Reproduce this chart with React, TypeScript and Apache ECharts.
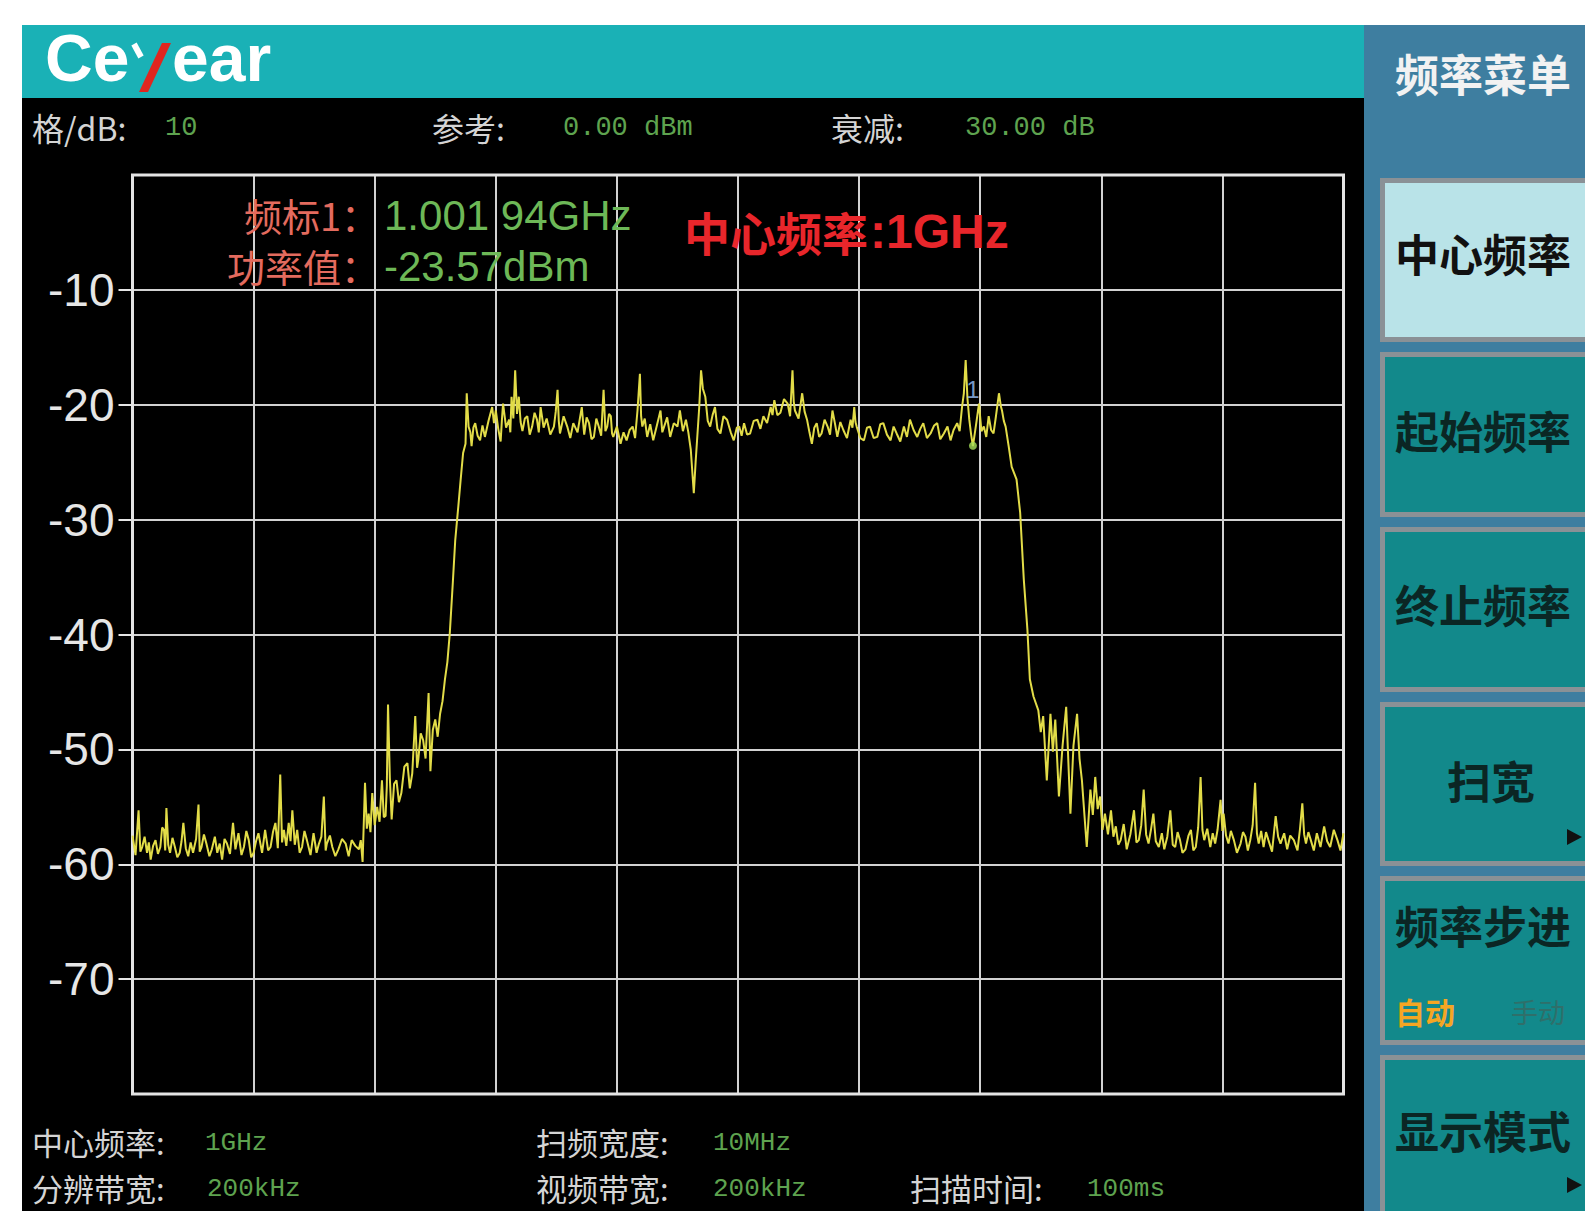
import React, { useEffect, useRef } from "react";
import * as echarts from "echarts";

// Trace: [frequency MHz, level dBm]
const noiseLeft = [
  [995.0, -57.5], [995.025, -59.2], [995.05, -55.3], [995.065, -58.9], [995.08, -58.5], [995.1, -57.6],
  [995.12, -59.0], [995.135, -58.1], [995.15, -59.6], [995.17, -58.4], [995.19, -57.9], [995.21, -59.1],
  [995.23, -58.5], [995.245, -56.8], [995.26, -57.0], [995.27, -58.8], [995.28, -55.1], [995.295, -58.3],
  [995.31, -59.0], [995.33, -57.7], [995.35, -58.5], [995.37, -59.4], [995.39, -59.0], [995.405, -58.0],
  [995.42, -56.4], [995.44, -58.6], [995.46, -59.3], [995.48, -58.1], [995.5, -59.0], [995.525, -57.8],
  [995.545, -54.8], [995.555, -58.9], [995.57, -58.5], [995.59, -57.4], [995.61, -58.2], [995.635, -59.3],
  [995.655, -58.7], [995.68, -57.6], [995.7, -59.0], [995.72, -58.2], [995.74, -59.6], [995.76, -57.8],
  [995.78, -58.2], [995.805, -59.1], [995.83, -56.4], [995.85, -58.7], [995.875, -57.3], [995.9, -59.2],
  [995.92, -58.5], [995.94, -57.1], [995.96, -57.9], [995.98, -59.4], [996.0, -59.0], [996.02, -58.0],
  [996.04, -57.3], [996.07, -59.0], [996.095, -57.0], [996.12, -58.8], [996.14, -58.5], [996.16, -57.2],
  [996.18, -56.4], [996.2, -58.6], [996.22, -52.2], [996.235, -58.1], [996.25, -57.0], [996.27, -58.4],
  [996.29, -56.4], [996.305, -58.0], [996.32, -55.3], [996.34, -58.3], [996.36, -57.0], [996.38, -59.0],
  [996.4, -58.5], [996.42, -57.1], [996.44, -57.9], [996.47, -59.2], [996.495, -57.3], [996.52, -59.0],
  [996.54, -58.2], [996.56, -57.6], [996.58, -54.1], [996.595, -58.8], [996.605, -58.2], [996.63, -57.5],
  [996.65, -58.5], [996.675, -59.3], [996.7, -58.7], [996.73, -57.8], [996.76, -58.2], [996.785, -59.3],
  [996.81, -57.9], [996.84, -58.4], [996.87, -58.7], [996.885, -57.9], [996.9, -59.8],
];
const skirtLeft = [
  [996.92, -52.9], [996.935, -56.9], [996.95, -55.6], [996.965, -57.2], [996.98, -53.8], [997.0, -56.6],
  [997.02, -55.0], [997.04, -56.3], [997.06, -52.7], [997.075, -55.9], [997.09, -55.8], [997.1, -53.2],
  [997.11, -46.1], [997.125, -52.5], [997.14, -56.1], [997.16, -53.0], [997.18, -52.7], [997.2, -54.6],
  [997.22, -53.8], [997.245, -51.5], [997.27, -51.2], [997.29, -53.4], [997.31, -52.1], [997.335, -47.1],
  [997.35, -51.6], [997.36, -50.9], [997.38, -48.6], [997.4, -49.2], [997.42, -50.8], [997.445, -45.1],
  [997.46, -51.9], [997.48, -48.3], [997.5, -47.4], [997.52, -48.9], [997.54, -46.9], [997.56, -45.8],
  [997.58, -43.9], [997.6, -42.4], [997.62, -39.9], [997.645, -35.5], [997.665, -31.8], [997.69, -28.9],
  [997.71, -26.5], [997.73, -24.2], [997.75, -23.4],
];
const passband = [
  [997.76, -19.0], [997.775, -21.9], [997.79, -22.4], [997.8, -23.6], [997.815, -22.0], [997.83, -21.6],
  [997.85, -22.7], [997.87, -23.1], [997.89, -21.8], [997.91, -22.8], [997.94, -21.4], [997.97, -20.2],
  [997.985, -21.6], [998.0, -20.5], [998.02, -22.1], [998.04, -23.2], [998.05, -21.4], [998.06, -19.9],
  [998.085, -22.0], [998.11, -21.3], [998.12, -22.4], [998.13, -19.3], [998.145, -21.2], [998.16, -17.0],
  [998.175, -20.8], [998.19, -19.3], [998.205, -21.5], [998.22, -22.3], [998.24, -21.2], [998.26, -21.0],
  [998.28, -22.6], [998.3, -21.9], [998.32, -20.7], [998.34, -21.3], [998.355, -22.4], [998.37, -20.2],
  [998.395, -22.0], [998.42, -21.2], [998.45, -22.6], [998.48, -21.9], [998.495, -20.6], [998.51, -18.7],
  [998.52, -21.4], [998.53, -22.5], [998.56, -21.0], [998.59, -21.9], [998.615, -22.9], [998.64, -21.6],
  [998.675, -22.4], [998.71, -20.2], [998.73, -22.6], [998.75, -21.1], [998.77, -21.6], [998.79, -23.0],
  [998.81, -22.8], [998.83, -21.2], [998.85, -21.9], [998.87, -22.7], [998.89, -18.7], [998.905, -22.3],
  [998.92, -21.9], [998.935, -20.8], [998.95, -21.0], [998.96, -22.5], [998.97, -22.8], [999.0, -21.9],
  [999.03, -23.4], [999.055, -22.4], [999.08, -23.1], [999.105, -22.2], [999.13, -21.9], [999.15, -22.9],
  [999.17, -20.5], [999.19, -17.3], [999.2, -21.0], [999.21, -21.9], [999.23, -21.2], [999.25, -22.8],
  [999.275, -21.7], [999.3, -23.1], [999.33, -21.8], [999.36, -20.5], [999.375, -22.4], [999.39, -21.9],
  [999.415, -21.1], [999.44, -22.8], [999.47, -21.6], [999.5, -21.9], [999.52, -20.5], [999.545, -22.3],
  [999.57, -21.3], [999.59, -22.4], [999.61, -23.9], [999.635, -27.7], [999.65, -25.0], [999.66, -23.4],
  [999.68, -20.2], [999.695, -17.0], [999.71, -18.6], [999.73, -19.3], [999.75, -21.4], [999.77, -21.9],
  [999.79, -20.9], [999.81, -20.2], [999.83, -22.1], [999.855, -22.5], [999.88, -21.0], [999.91, -21.3],
  [999.94, -22.4], [999.965, -23.1], [999.99, -22.0], [1000.01, -21.9], [1000.03, -22.7], [1000.05, -21.6],
  [1000.075, -22.6], [1000.1, -22.5], [1000.13, -21.4], [1000.16, -21.3], [1000.185, -22.1], [1000.21, -21.0],
  [1000.24, -21.6], [1000.27, -20.2], [1000.285, -20.9], [1000.3, -19.6], [1000.325, -20.9], [1000.35, -20.7],
  [1000.38, -19.5], [1000.41, -19.9], [1000.43, -21.0], [1000.45, -17.0], [1000.46, -19.7], [1000.47, -20.5],
  [1000.5, -21.2], [1000.53, -19.0], [1000.55, -20.6], [1000.57, -21.3], [1000.59, -22.4], [1000.61, -23.4],
  [1000.63, -22.0], [1000.65, -21.6], [1000.67, -22.8], [1000.69, -22.5], [1000.715, -21.3], [1000.74, -21.9],
  [1000.76, -22.6], [1000.78, -20.5], [1000.8, -21.6], [1000.82, -22.8], [1000.845, -21.5], [1000.87, -22.2],
  [1000.9, -22.9], [1000.93, -21.3], [1000.945, -22.0], [1000.96, -20.2], [1000.97, -21.5], [1000.98, -21.9],
  [1001.01, -22.9], [1001.04, -23.1], [1001.065, -22.0], [1001.09, -21.9], [1001.12, -22.9], [1001.15, -22.8],
  [1001.175, -21.7], [1001.2, -21.6], [1001.23, -22.6], [1001.26, -23.1], [1001.285, -21.9], [1001.31, -22.5],
  [1001.34, -23.2], [1001.37, -21.9], [1001.395, -22.8], [1001.42, -21.3], [1001.45, -22.2], [1001.48, -22.8],
  [1001.505, -22.1], [1001.53, -21.6], [1001.56, -22.9], [1001.59, -22.5], [1001.62, -21.8], [1001.645, -21.6],
  [1001.67, -23.0], [1001.7, -22.5], [1001.73, -21.9], [1001.755, -23.1], [1001.78, -22.2], [1001.81, -21.6],
  [1001.83, -22.3], [1001.85, -20.2], [1001.865, -19.0], [1001.88, -16.1], [1001.895, -19.5], [1001.91, -21.3],
  [1001.925, -22.6], [1001.94, -23.6], [1001.965, -21.8], [1001.99, -19.9], [1002.01, -22.3], [1002.03, -21.9],
  [1002.05, -22.8], [1002.07, -21.0], [1002.09, -22.2], [1002.11, -22.5], [1002.13, -21.0], [1002.155, -19.0],
  [1002.17, -20.1], [1002.18, -20.5], [1002.195, -21.4], [1002.21, -21.9], [1002.235, -23.6],
];
const skirtRight = [
  [1002.26, -25.4], [1002.3, -26.5], [1002.33, -29.4], [1002.36, -35.2], [1002.39, -39.6], [1002.41, -43.9],
  [1002.44, -45.4], [1002.48, -46.6], [1002.5, -48.5], [1002.52, -47.1], [1002.55, -52.7], [1002.58, -46.9],
  [1002.6, -50.2], [1002.62, -47.4], [1002.65, -54.1], [1002.68, -49.7], [1002.71, -46.3], [1002.745, -55.6],
  [1002.77, -49.7], [1002.8, -46.9], [1002.82, -50.8], [1002.84, -52.7], [1002.88, -58.5], [1002.91, -53.5],
  [1002.93, -55.7], [1002.95, -52.4], [1002.97, -55.2], [1002.99, -54.1],
];
const noiseRight = [
  [1003.01, -57.0], [1003.03, -55.6], [1003.055, -57.4], [1003.08, -55.3], [1003.1, -57.6], [1003.12, -56.7],
  [1003.14, -58.3], [1003.16, -57.9], [1003.185, -56.5], [1003.21, -58.7], [1003.24, -57.4], [1003.27, -55.3],
  [1003.29, -58.1], [1003.31, -57.9], [1003.33, -56.6], [1003.35, -53.5], [1003.37, -57.4], [1003.39, -58.2],
  [1003.41, -57.0], [1003.43, -55.6], [1003.45, -58.0], [1003.475, -58.5], [1003.5, -57.3], [1003.52, -58.7],
  [1003.545, -57.6], [1003.57, -55.3], [1003.59, -58.3], [1003.61, -58.5], [1003.63, -57.2], [1003.65, -57.9],
  [1003.67, -59.0], [1003.695, -58.7], [1003.72, -57.5], [1003.74, -57.0], [1003.76, -58.8], [1003.78, -58.5],
  [1003.8, -56.8], [1003.82, -52.4], [1003.835, -57.0], [1003.85, -57.9], [1003.875, -56.9], [1003.9, -58.5],
  [1003.92, -57.3], [1003.94, -58.2], [1003.96, -57.0], [1003.985, -54.4], [1004.0, -57.1], [1004.01, -55.6],
  [1004.03, -57.5], [1004.05, -58.2], [1004.07, -57.1], [1004.095, -57.9], [1004.12, -59.0], [1004.15, -58.2],
  [1004.17, -57.2], [1004.19, -57.6], [1004.21, -58.8], [1004.23, -57.9], [1004.25, -56.6], [1004.27, -52.9],
  [1004.285, -57.3], [1004.3, -58.2], [1004.32, -57.1], [1004.34, -58.5], [1004.36, -57.2], [1004.38, -57.9],
  [1004.41, -58.9], [1004.44, -55.8], [1004.46, -57.6], [1004.48, -58.2], [1004.51, -57.3], [1004.535, -58.7],
  [1004.56, -57.5], [1004.59, -57.9], [1004.62, -58.8], [1004.64, -57.0], [1004.66, -54.7], [1004.675, -57.4],
  [1004.69, -58.2], [1004.71, -57.2], [1004.73, -57.9], [1004.755, -58.8], [1004.78, -57.3], [1004.81, -58.5],
  [1004.84, -56.7], [1004.865, -58.0], [1004.89, -58.5], [1004.92, -57.0], [1004.95, -57.9], [1004.975, -58.8],
  [1005.0, -57.3],
];

const yTickValues = [-70, -60, -50, -40, -30, -20, -10];
const markerFreq = 1001.94;
const markerLevel = -23.57;

const headerLabels = ["格/dB:", "参考:", "衰减:"];
const headerValues = ["10", "0.00 dBm", "30.00 dB"];
const footerLabels = ["中心频率:", "扫频宽度:", "分辨带宽:", "视频带宽:", "扫描时间:"];
const footerValues = ["1GHz", "10MHz", "200kHz", "200kHz", "100ms"];
const markerTexts = ["频标1：", "功率值："];
const markerValues = ["1.001 94GHz", "-23.57dBm"];
const centerNote = ["中心频率", ":1GHz"];
const menuTitle = "频率菜单";
const menuItems = ["中心频率", "起始频率", "终止频率", "扫宽", "频率步进", "显示模式"];
const stepModes = ["自动", "手动"];

const CJK = "'Noto Sans CJK SC', sans-serif";
const MONO = "'Liberation Mono', monospace";
const SANS = "'Liberation Sans', Arial, sans-serif";

function buildGraphics() {
  const els: any[] = [];
  const BG = -10;
  els.push({ type: "rect", z: BG, shape: { x: 22, y: 25, width: 1342, height: 74 }, style: { fill: "#1ab1b6" } });
  els.push({ type: "rect", z: BG, shape: { x: 22, y: 98, width: 1342, height: 1113 }, style: { fill: "#000000" } });
  els.push({ type: "rect", z: BG, shape: { x: 1364, y: 25, width: 221, height: 1186 }, style: { fill: "#3e7ea0" } });

  // logo
  els.push({ type: "text", z: 5, x: 45, y: 58, style: { text: "Ce", fill: "#ffffff", fontSize: 66, fontWeight: "bold", fontFamily: SANS, align: "left", verticalAlign: "middle" } });
  els.push({ type: "line", z: 5, shape: { x1: 134, y1: 44, x2: 141, y2: 57 }, style: { stroke: "#ffffff", lineWidth: 6 } });
  els.push({ type: "polygon", z: 5, shape: { points: [[162, 43], [171, 43], [148, 92], [139, 92]] }, style: { fill: "#e0261f" } });
  els.push({ type: "text", z: 5, x: 172, y: 58, style: { text: "ear", fill: "#ffffff", fontSize: 66, fontWeight: "bold", fontFamily: SANS, align: "left", verticalAlign: "middle" } });

  // header row
  const hLabelX = [32, 432, 831];
  const hValueX = [165, 563, 965];
  headerLabels.forEach((t, i) => {
    els.push({ type: "text", z: 5, x: hLabelX[i], y: 127, style: { text: t, fill: "#d4d4d4", fontSize: 32, fontFamily: CJK, align: "left", verticalAlign: "middle" } });
    els.push({ type: "text", z: 5, x: hValueX[i], y: 128, style: { text: headerValues[i], fill: "#5ea34f", fontSize: 27, fontFamily: MONO, align: "left", verticalAlign: "middle" } });
  });

  // footer rows
  const fPos = [[32, 1141], [536, 1141], [32, 1187], [536, 1187], [910, 1187]];
  const fValX = [205, 713, 207, 713, 1087];
  footerLabels.forEach((t, i) => {
    els.push({ type: "text", z: 5, x: fPos[i][0], y: fPos[i][1], style: { text: t, fill: "#d4d4d4", fontSize: 31, fontFamily: CJK, align: "left", verticalAlign: "middle" } });
    els.push({ type: "text", z: 5, x: fValX[i], y: fPos[i][1] + 2, style: { text: footerValues[i], fill: "#5ea34f", fontSize: 26, fontFamily: MONO, align: "left", verticalAlign: "middle" } });
  });

  // marker readout
  const mY = [214, 265];
  markerTexts.forEach((t, i) => {
    els.push({ type: "text", z: 10, x: 379, y: mY[i], style: { text: t, fill: "#e36b5e", fontSize: 38, fontFamily: CJK, align: "right", verticalAlign: "middle" } });
    els.push({ type: "text", z: 10, x: 384, y: mY[i] + 1, style: { text: markerValues[i], fill: "#6db857", fontSize: 42, fontFamily: SANS, align: "left", verticalAlign: "middle" } });
  });
  els.push({ type: "text", z: 10, x: 684, y: 231, style: { text: centerNote[0], fill: "#e8262b", fontSize: 46, fontWeight: "bold", fontFamily: CJK, align: "left", verticalAlign: "middle" } });
  els.push({ type: "text", z: 10, x: 870, y: 231, style: { text: centerNote[1], fill: "#e8262b", fontSize: 48, fontWeight: "bold", fontFamily: SANS, align: "left", verticalAlign: "middle" } });

  // right menu
  els.push({ type: "text", z: 5, x: 1395, y: 73, style: { text: menuTitle, fill: "#f2f2f2", fontSize: 44, fontWeight: "bold", fontFamily: CJK, align: "left", verticalAlign: "middle" } });
  const btn = [[178, 342], [352, 517], [527, 692], [702, 866], [876, 1045], [1055, 1230]];
  const textY = [253, 430, 604, 780, 925, 1130];
  btn.forEach(([t, b], i) => {
    els.push({ type: "rect", z: -5, shape: { x: 1380, y: t, width: 210, height: b - t }, style: { fill: "#8a9196" } });
    els.push({ type: "rect", z: -4, shape: { x: 1385, y: t + 5, width: 205, height: b - t - 10 }, style: { fill: i === 0 ? "#b9e3e8" : "#12898b" } });
    const centered = i === 3;
    els.push({ type: "text", z: 5, x: centered ? 1491 : 1395, y: textY[i], style: { text: menuItems[i], fill: i === 0 ? "#111111" : "#0b2624", fontSize: 44, fontWeight: "bold", fontFamily: CJK, align: centered ? "center" : "left", verticalAlign: "middle" } });
  });
  els.push({ type: "text", z: 5, x: 1395, y: 1011, style: { text: stepModes[0], fill: "#f5a623", fontSize: 30, fontWeight: "bold", fontFamily: CJK, align: "left", verticalAlign: "middle" } });
  els.push({ type: "text", z: 5, x: 1511, y: 1011, style: { text: stepModes[1], fill: "#2f6f6a", fontSize: 27, fontFamily: CJK, align: "left", verticalAlign: "middle" } });
  els.push({ type: "polygon", z: 5, shape: { points: [[1567, 829], [1582, 837], [1567, 845]] }, style: { fill: "#111111" } });
  els.push({ type: "polygon", z: 5, shape: { points: [[1567, 1177], [1582, 1185], [1567, 1193]] }, style: { fill: "#111111" } });
  return els;
}

export default function App() {
  const ref = useRef<HTMLDivElement>(null);
  useEffect(() => {
    if (!ref.current) return;
    const chart = echarts.init(ref.current, null, { renderer: "svg" });
    const trace = [...noiseLeft, ...skirtLeft, ...passband, ...skirtRight, ...noiseRight];
    chart.setOption({
      animation: false,
      backgroundColor: "#ffffff",
      grid: {
        left: 132.5, right: 241.5, top: 175, bottom: 117,
        show: true, borderColor: "#e4e4e4", borderWidth: 3, backgroundColor: "transparent", z: 1,
      },
      xAxis: {
        type: "value", min: 995, max: 1005, interval: 1,
        axisLine: { show: false }, axisTick: { show: false }, axisLabel: { show: false },
        splitLine: { show: true, lineStyle: { color: "#d2d2d2", width: 2 } },
      },
      yAxis: {
        type: "value", min: -80, max: 0, interval: 10,
        axisLine: { show: false },
        axisTick: { show: true, length: 14, customValues: yTickValues, lineStyle: { color: "#e6e6e6", width: 2 } },
        axisLabel: {
          customValues: yTickValues, color: "#e6e6e6", fontSize: 46, fontFamily: SANS, margin: 18,
          formatter: (v: number) => (v === 0 || v === -80 ? "" : String(v)),
        },
        splitLine: { show: true, lineStyle: { color: "#d2d2d2", width: 2 } },
      },
      series: [
        {
          type: "line", data: trace, showSymbol: false, z: 5,
          lineStyle: { color: "#e2dc48", width: 2 },
        },
        {
          type: "scatter", data: [[markerFreq, markerLevel]], z: 6,
          symbol: "circle", symbolSize: 8, itemStyle: { color: "#a6e05a" },
          label: { show: true, formatter: "1", position: "top", distance: 40, color: "#9cc4ff", fontSize: 24, fontFamily: SANS },
        },
      ],
      graphic: { elements: buildGraphics() },
    });
    return () => chart.dispose();
  }, []);
  return <div ref={ref} style={{ position: "fixed", left: 0, top: 0, width: 1585, height: 1211 }} />;
}
